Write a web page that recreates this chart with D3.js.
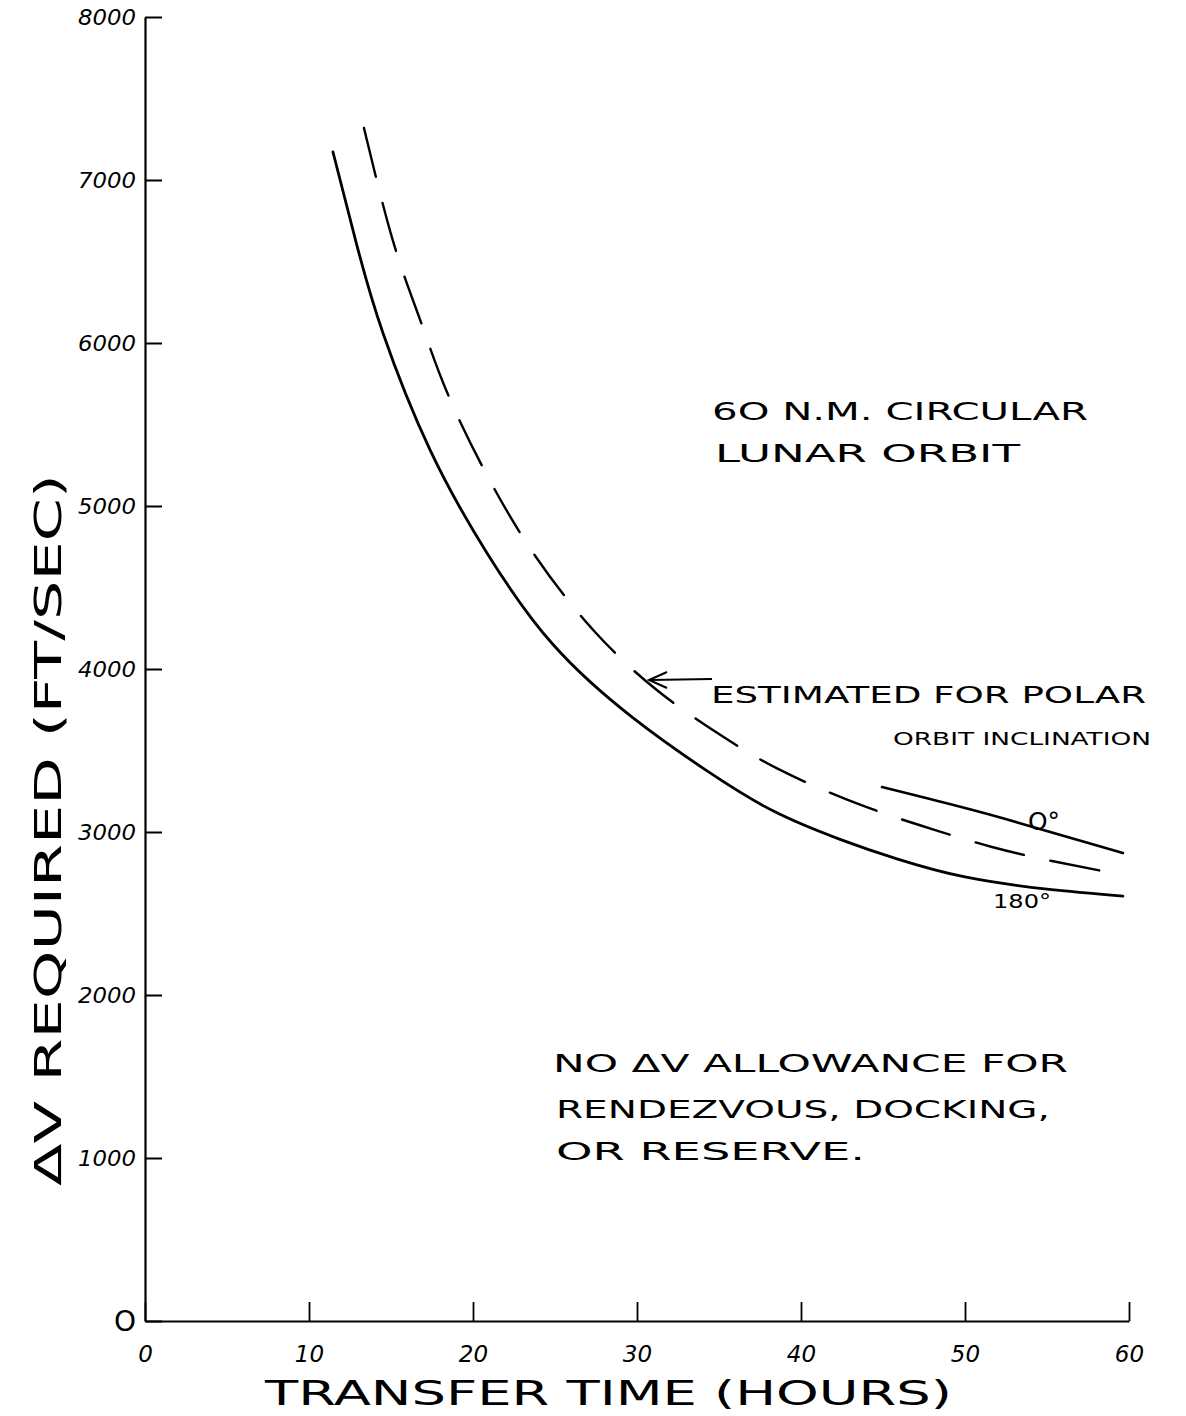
<!DOCTYPE html>
<html>
<head>
<meta charset="utf-8">
<script src="https://cdn.jsdelivr.net/npm/d3@7"></script>
<style>
  html, body { margin: 0; padding: 0; background: #fff; }
  svg { display: block; }
  text { font-family: "DejaVu Sans", sans-serif; fill: #000; }
</style>
</head>
<body>
<div id="chart"></div>
<script>
// ---- data ----
const xTicks = [0, 10, 20, 30, 40, 50, 60];
const yTicks = [0, 1000, 2000, 3000, 4000, 5000, 6000, 7000, 8000];

// 180° curve (solid)
const hours180 = [11.46, 12.9, 14.51, 17.38, 20.85, 24.88, 29.76, 34.27, 38.29, 42.38, 45.85, 50.0, 55.0, 59.63];
const dv180    = [7172, 6607, 6061, 5344, 4712, 4150, 3700, 3375, 3130, 2955, 2835, 2724, 2650, 2607];

// estimated for polar orbit inclination (dashed)
const hoursPolar = [13.35, 15.12, 16.71, 18.41, 20.91, 23.84, 27.44, 31.28, 35.0, 38.6, 43.48, 47.99, 51.65, 55.3, 59.63];
const dvPolar    = [7319, 6626, 6160, 5699, 5178, 4687, 4227, 3865, 3601, 3387, 3172, 3018, 2908, 2822, 2736];

// 0° curve (solid, upper right)
const hours0 = [44.94, 47.87, 52.26, 59.63];
const dv0    = [3276, 3202, 3086, 2871];

// ---- drawing ----
const W = 1186, H = 1416;
const svg = d3.select("#chart").append("svg").attr("width", W).attr("height", H);

const x = d3.scaleLinear().domain([0, 60]).range([145, 1129]);
const y = d3.scaleLinear().domain([0, 8000]).range([1321, 17]);

// axes
const yAxis = d3.axisLeft(y).tickValues(yTicks).tickSizeInner(-17).tickSizeOuter(0).tickPadding(9)
  .tickFormat(d => d === 0 ? "O" : d3.format("d")(d));
const gy = svg.append("g").attr("transform", `translate(${x(0)},0)`).call(yAxis);
gy.select(".domain").attr("stroke", "#000").attr("stroke-width", 2.2);
gy.selectAll(".tick line").attr("stroke", "#000").attr("stroke-width", 2);
gy.selectAll(".tick text")
  .style("font-size", d => d === 0 ? "28px" : "21px")
  .style("font-style", d => d === 0 ? "normal" : "italic")
  .attr("dy", "0.35em")
  .each(function(d) {
    if (d !== 0) d3.select(this).attr("textLength", 58).attr("lengthAdjust", "spacingAndGlyphs");
  });

const xAxis = d3.axisBottom(x).tickValues(xTicks).tickSizeInner(-19).tickSizeOuter(0).tickPadding(25)
  .tickFormat(d3.format("d"));
const gx = svg.append("g").attr("transform", `translate(0,${y(0)})`).call(xAxis);
gx.select(".domain").attr("stroke", "#000").attr("stroke-width", 2.2);
gx.selectAll(".tick line").attr("stroke", "#000").attr("stroke-width", 1.8);
gx.selectAll(".tick text").style("font-size", "23px").style("font-style", "italic");

// lines
const line = d3.line().x(d => x(d[0])).y(d => y(d[1])).curve(d3.curveNatural);
const zip = (a, b) => a.map((v, i) => [v, b[i]]);

svg.append("path").datum(zip(hours180, dv180)).attr("d", line)
  .attr("fill", "none").attr("stroke", "#000").attr("stroke-width", 2.8).attr("stroke-linecap", "round");
svg.append("path").datum(zip(hoursPolar, dvPolar)).attr("d", line)
  .attr("fill", "none").attr("stroke", "#000").attr("stroke-width", 2.4)
  .attr("stroke-dasharray", "50,27").attr("stroke-linecap", "round");
svg.append("path").datum(zip(hours0, dv0)).attr("d", line)
  .attr("fill", "none").attr("stroke", "#000").attr("stroke-width", 2.6).attr("stroke-linecap", "round");

// arrow to dashed curve
svg.append("line").attr("x1", 712).attr("y1", 679).attr("x2", 650).attr("y2", 680)
  .attr("stroke", "#000").attr("stroke-width", 2);
svg.append("path").attr("d", "M667,672 L649,680 L667,688")
  .attr("fill", "none").attr("stroke", "#000").attr("stroke-width", 2);

// annotation text helper
function label(txt, x0, y0, size, len) {
  const t = svg.append("text").attr("x", x0).attr("y", y0).style("font-size", size + "px").text(txt);
  if (len) t.attr("textLength", len).attr("lengthAdjust", "spacingAndGlyphs");
  return t;
}

label("6O N.M. CIRCULAR", 712, 420, 25, 376);
label("LUNAR  ORBIT", 715, 462, 25, 305);
label("ESTIMATED FOR POLAR", 711, 703, 23, 435);
label("ORBIT INCLINATION", 893, 745, 18, 258);
label("O°", 1028, 830, 24, 32);
label("180°", 993, 908, 20, 58);
label("NO ΔV ALLOWANCE  FOR", 553, 1072, 24, 515);
label("RENDEZVOUS, DOCKING,", 556, 1118, 24, 494);
label("OR RESERVE.", 556, 1160, 24, 309);

// axis titles
label("TRANSFER TIME (HOURS)", 265, 1405, 34, 687);
svg.append("text")
  .attr("transform", "translate(61,1186) rotate(-90)")
  .style("font-size", "38px")
  .attr("textLength", 712).attr("lengthAdjust", "spacingAndGlyphs")
  .text("ΔV REQUIRED (FT/SEC)");
</script>
</body>
</html>
